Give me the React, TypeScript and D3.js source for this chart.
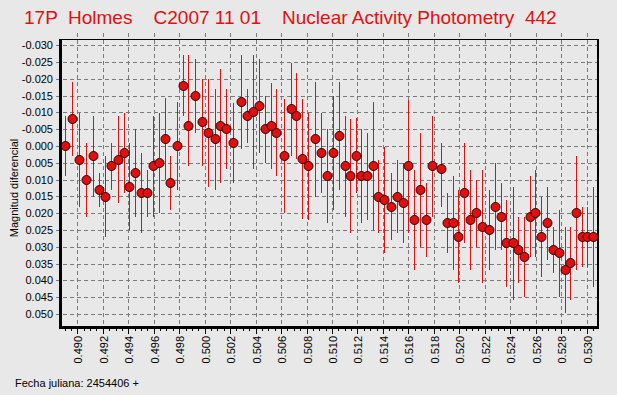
import React from 'react';
import * as d3 from 'd3';

// Julian date offsets (fecha juliana - 2454406)
const jd = [
  0.48903, 0.48958, 0.49013, 0.49068, 0.49123, 0.4917, 0.49218, 0.49265, 0.4932, 0.49367,
  0.49406, 0.49453, 0.495, 0.49547, 0.49595, 0.49642, 0.49689, 0.49728, 0.49783, 0.4983,
  0.49869, 0.49924, 0.49979, 0.50026, 0.50081, 0.50121, 0.50168, 0.50223, 0.50286, 0.50333,
  0.5038, 0.50427, 0.50474, 0.50521, 0.5056, 0.50623, 0.50678, 0.50717, 0.50765, 0.50812,
  0.50867, 0.50914, 0.50961, 0.51008, 0.51055, 0.51102, 0.51141, 0.51189, 0.51228, 0.51275,
  0.51322, 0.51361, 0.51409, 0.51464, 0.51511, 0.51558, 0.51597, 0.51644, 0.51691, 0.51738,
  0.51785, 0.51856, 0.51903, 0.5195, 0.5199, 0.52037, 0.52084, 0.52131, 0.52178, 0.52233,
  0.5228, 0.52327, 0.52367, 0.52422, 0.52461, 0.52508, 0.52555, 0.52594, 0.52641, 0.52689,
  0.52736, 0.52783, 0.5283, 0.52869, 0.52916, 0.52963, 0.53003, 0.5305,
];

// magnitud diferencial
const mag = [
  0, -0.00804, 0.00417, 0.01012, 0.00298, 0.01309, 0.01518, 0.00595, 0.00417, 0.00208,
  0.0122, 0.00804, 0.01399, 0.01399, 0.00595, 0.00506, -0.00208, 0.01101, 0, -0.01786,
  -0.00595, -0.01488, -0.00714, -0.00387, -0.00208, -0.00595, -0.00506, -0.00089, -0.01309, -0.00893,
  -0.01012, -0.0119, -0.00506, -0.00595, -0.00387, 0.00298, -0.01101, -0.00893, 0.00387, 0.00595,
  -0.00208, 0.00208, 0.00893, 0.00208, -0.00298, 0.00595, 0.00893, 0.00298, 0.00893, 0.00893,
  0.00595, 0.01518, 0.01607, 0.01815, 0.01518, 0.01696, 0.00595, 0.02202, 0.01309, 0.02202,
  0.00595, 0.00684, 0.02292, 0.02292, 0.02708, 0.01399, 0.02202, 0.01994, 0.02411, 0.025,
  0.01815, 0.02113, 0.02887, 0.02887, 0.03095, 0.03303, 0.02113, 0.01994, 0.02708, 0.02292,
  0.03095, 0.03184, 0.0369, 0.03482, 0.01994, 0.02708, 0.02708, 0.02708,
];

// error bar ends (upper = more negative value, lower = more positive)
const errTop = [
  -0.00893, -0.01905, -0.00982, -0.00089, -0.00893, 0.00804, 0.00298, -0.00089, -0.00893, -0.00982,
  -0.00089, -0.00506, 0.00208, 0.00714, -0.00893, -0.00982, -0.01428, 0.00298, -0.01309, -0.02708,
  -0.02708, -0.02589, -0.01994, -0.01994, -0.01696, -0.02292, -0.01696, -0.0128, -0.02708, -0.01696,
  -0.02708, -0.02589, -0.01488, -0.01875, -0.01696, -0.01399, -0.0247, -0.02173, -0.01399, -0.00982,
  -0.01905, -0.00982, -0.00506, -0.01488, -0.01905, -0.00893, -0.00804, -0.00833, -0.00506, -0.00387,
  -0.01309, 0.00417, 0.0003, 0.00804, 0.00417, 0.00506, -0.01369, 0.00714, -0.00387, 0.01101,
  -0.00893, -0.00089, 0.01399, 0.00893, 0.01309, -0.00089, 0.00714, 0.01012, 0.00714, 0.01309,
  0.00506, 0.01101, 0.01607, 0.0122, 0.02113, 0.02113, 0.00893, 0.00714, 0.01518, 0.0122,
  0.02411, 0.01905, 0.02411, 0.02411, 0.00298, 0.01815, 0.01815, 0.0122,
];

const errBottom = [
  0.00893, 0.00298, 0.01815, 0.02113, 0.01518, 0.01815, 0.02708, 0.01309, 0.01696, 0.01399,
  0.025, 0.02113, 0.02589, 0.02113, 0.02113, 0.01994, 0.01012, 0.01905, 0.01309, -0.00893,
  0.00595, -0.00387, 0.00595, 0.0122, 0.01309, 0.01101, 0.00684, 0.01101, 0.00089, -0.00089,
  0.00684, 0.00208, 0.00506, 0.00684, 0.00893, 0.01994, 0.00298, 0.00387, 0.02173, 0.02202,
  0.01518, 0.01399, 0.02292, 0.01905, 0.01309, 0.02113, 0.02589, 0.01399, 0.02292, 0.02202,
  0.025, 0.02589, 0.03184, 0.02797, 0.02589, 0.02887, 0.02589, 0.0369, 0.03006, 0.03303,
  0.02113, 0.01815, 0.03184, 0.0369, 0.04077, 0.02887, 0.0369, 0.03006, 0.04077, 0.0369,
  0.03095, 0.03095, 0.04196, 0.04583, 0.04077, 0.04494, 0.03303, 0.03303, 0.03899, 0.03393,
  0.0378, 0.04494, 0.0497, 0.04583, 0.0369, 0.03601, 0.03601, 0.04196,
];

const yTicks = [
  -0.03, -0.025, -0.02, -0.015, -0.01, -0.005, 0, 0.005, 0.01, 0.015, 0.02, 0.025, 0.03,
  0.035, 0.04, 0.045, 0.05,
];
const xTicks = [
  0.49, 0.492, 0.494, 0.496, 0.498, 0.5, 0.502, 0.504, 0.506, 0.508, 0.51, 0.512, 0.514,
  0.516, 0.518, 0.52, 0.522, 0.524, 0.526, 0.528, 0.53,
];

const title = '17P  Holmes    C2007 11 01    Nuclear Activity Photometry  442';
const yTitle = 'Magnitud diferencial';
const xTitle = 'Fecha juliana: 2454406 +';

const W = 617;
const H = 395;
const left = 60;
const right = 598;
const top = 39;
const bottom = 327;
const font = '"Liberation Sans", Arial, sans-serif';
const red = '#e01010';

export default function App() {
  const x = d3.scaleLinear().domain([0.48864, 0.53089]).range([left, right]);
  const y = d3.scaleLinear().domain([-0.03185, 0.05387]).range([top, bottom]);

  // minor ticks every 0.0005 across the axis
  const minor = d3.range(0, 86).map(i => 0.489 + i * 0.0005).filter(v => x(v) > left && x(v) < right);

  const rows = jd.map((d, i) => ({ d, m: mag[i], t: errTop[i], b: errBottom[i] }));

  return (
    <div style={{ position: 'fixed', left: 0, top: 0 }}>
      <svg width={W} height={H} style={{ display: 'block' }} fontFamily={font}>
        <rect width={W} height={H} fill="#e8e8e8" />

        <text x={24} y={24} fontSize={19} fill={red} style={{ whiteSpace: 'pre' }}>
          {title}
        </text>

        {/* grid */}
        <g stroke="#7a7a7a" strokeWidth={1} strokeDasharray="4,3" shapeRendering="crispEdges">
          {yTicks.map(v => (
            <line key={'h' + v} x1={left - 4} x2={right} y1={Math.round(y(v)) + 0.5} y2={Math.round(y(v)) + 0.5} />
          ))}
          {xTicks.map(v => (
            <line key={'v' + v} x1={Math.round(x(v)) + 0.5} x2={Math.round(x(v)) + 0.5} y1={33} y2={bottom} />
          ))}
        </g>

        {/* error bars */}
        <g stroke={red} strokeWidth={1} shapeRendering="crispEdges">
          {rows.map((r, i) => (
            <line key={i} x1={Math.round(x(r.d)) + 0.5} x2={Math.round(x(r.d)) + 0.5} y1={y(r.t)} y2={y(r.b)} />
          ))}
        </g>

        {/* points */}
        <g fill={red} stroke="#300000" strokeWidth={1}>
          {rows.map((r, i) => (
            <circle key={i} cx={Math.round(x(r.d)) + 0.5} cy={y(r.m)} r={4.5} />
          ))}
        </g>

        {/* frame */}
        <g stroke="#000" shapeRendering="crispEdges">
          <line x1={left} x2={right} y1={top + 0.5} y2={top + 0.5} strokeWidth={1} />
          <line x1={right} x2={right} y1={top} y2={bottom + 1} strokeWidth={2} />
          <line x1={left} x2={left} y1={top} y2={bottom + 1.5} strokeWidth={3} />
          <line x1={left - 1.5} x2={right + 1} y1={bottom} y2={bottom} strokeWidth={3} />
        </g>

        {/* x axis ticks */}
        <g stroke="#000" strokeWidth={1} shapeRendering="crispEdges">
          {minor.map((v, i) => (
            <line key={'m' + i} x1={Math.round(x(v)) + 0.5} x2={Math.round(x(v)) + 0.5} y1={bottom} y2={bottom + 4} />
          ))}
          {xTicks.map(v => (
            <line key={'t' + v} x1={Math.round(x(v)) + 0.5} x2={Math.round(x(v)) + 0.5} y1={bottom} y2={bottom + 7} />
          ))}
        </g>

        <g fontSize={11} fill="#000">
          {yTicks.map(v => (
            <text key={'yl' + v} x={53} y={y(v)} textAnchor="end" dominantBaseline="central">
              {v.toFixed(3)}
            </text>
          ))}
          {xTicks.map(v => (
            <text
              key={'xl' + v}
              transform={`translate(${Math.round(x(v)) + 0.5},${bottom + 9}) rotate(-90)`}
              textAnchor="end"
              dominantBaseline="central"
            >
              {v.toFixed(3)}
            </text>
          ))}
          <text transform={`translate(14,188) rotate(-90)`} textAnchor="middle" dominantBaseline="central">
            {yTitle}
          </text>
          <text x={15} y={387}>
            {xTitle}
          </text>
        </g>
      </svg>
    </div>
  );
}
